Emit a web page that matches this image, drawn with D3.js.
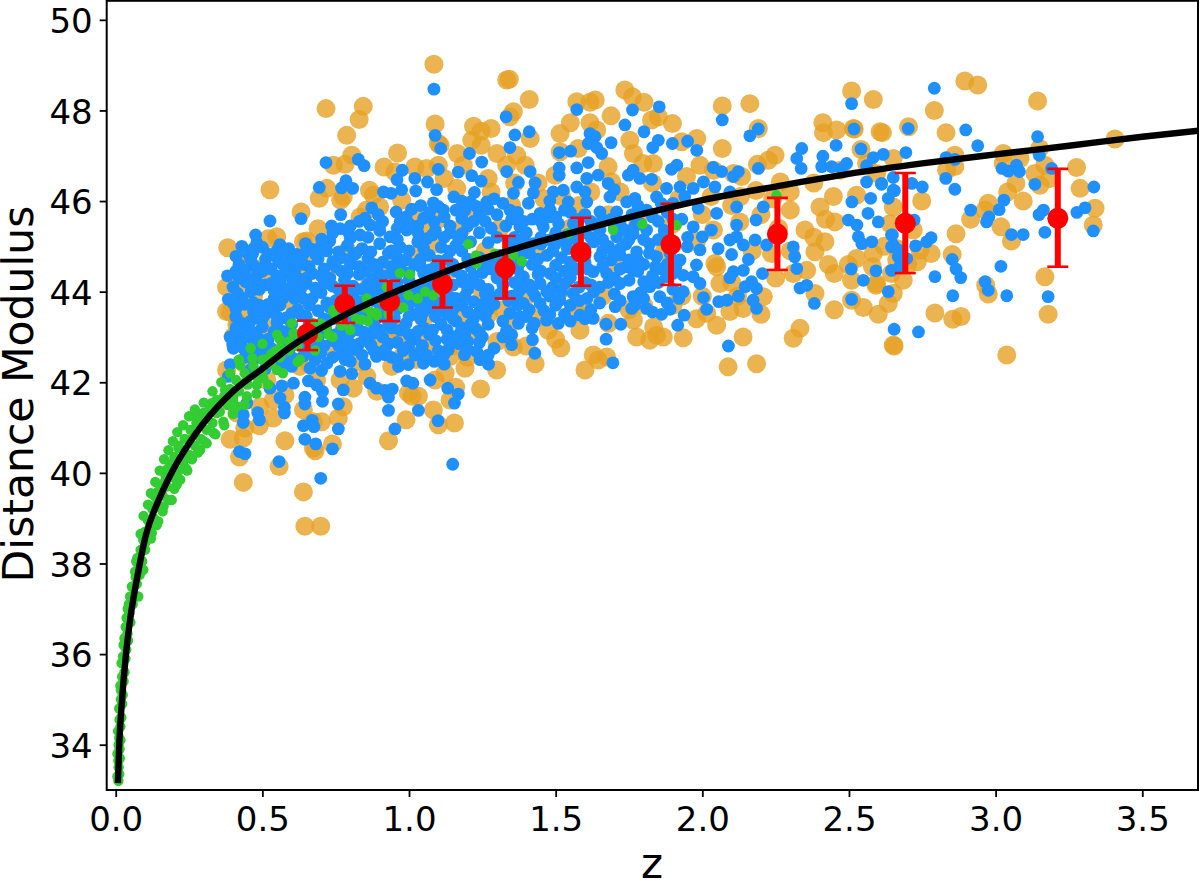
<!DOCTYPE html>
<html><head><meta charset="utf-8">
<script src="https://cdnjs.cloudflare.com/ajax/libs/d3/7.8.5/d3.min.js"></script>
<style>html,body{margin:0;padding:0;background:#fff}svg{display:block}text{font-family:"DejaVu Sans",sans-serif;fill:#000}</style>
</head><body><svg id="c" width="1200" height="881"></svg>
<script>
const xTicks=[0,0.5,1,1.5,2,2.5,3,3.5];
const yTicks=[34,36,38,40,42,44,46,48,50];
const xLabel="z", yLabel="Distance Modulus";
const orangePoints=[[1.085,49.02],[.844,48.09],[.717,48.04],[.83,47.8],[.7875,47.45],[1.089,47.7],[.526,46.25],[.961,47.06],[.805,47.01],[.782,46.81],[.742,46.79],[.915,46.75],[1.1,47.27],[1.106,47.23],[1.165,47.05],[1.246,47.54],[1.214,47.34],[1.246,47.23],[1.1,46.79],[1.02,46.75],[1.06,46.72],[.952,46.64],[1.185,46.79],[1.27,46.5],[1.163,46.28],[.865,46.24],[.879,46.13],[.72,46.28],[.694,46.06],[.767,46.02],[.776,46.1],[.632,45.76],[.549,45.21],[.52,45.17],[.64,45.1],[.652,45.12],[.382,44.97],[.435,44.58],[.475,44.51],[.69,45.39],[.674,44.84],[.833,45.65],[.855,45.8],[.9,45.87],[.975,46.02],[1.015,45.72],[1.06,45.43],[1.095,45.06],[.378,44.1],[.39,43.55],[.418,43.3],[.378,43.56],[.378,42.27],[.422,40.35],[.435,39.79],[.64,39.58],[.645,38.82],[.699,38.82],[.557,40.14],[.577,40.71],[.39,40.74],[.435,40.77],[.44,40.99],[.49,41.04],[.537,41.21],[.413,41.32],[.492,41.46],[.577,41.72],[.64,41.39],[.674,41.13],[.702,41.13],[.759,41.21],[.776,41.46],[.739,40.64],[.68,40.49],[.674,40.55],[.93,40.71],[.99,41.17],[1.083,41.39],[1.1,41.06],[1.155,41.1],[1.244,41.85],[1.159,41.89],[1.14,41.61],[1.032,41.69],[.998,41.76],[1.01,41.69],[.81,41.87],[.856,42.13],[.89,41.8],[.941,42.35],[1.025,42.5],[1.123,42.2],[1.089,42.05],[1.191,42.31],[1.299,42.27],[1.14,42.57],[.765,42.05],[.685,42.05],[.628,42.35],[.537,41.61],[.515,42.05],[.413,43.27],[.401,43.01],
[1.333,48.67],[1.342,48.69],[1.41,48.24],[1.356,47.97],[1.344,47.86],[1.413,47.38],[1.515,47.49],[1.572,48.19],[1.617,48.18],[1.635,48.23],[1.736,48.45],[1.762,48.3],[1.801,48.18],[1.689,47.88],[1.55,47.73],[1.617,47.73],[1.64,47.57],[1.898,47.71],[1.85,47.86],[1.827,47.79],[1.753,47.34],[1.765,47.05],[1.981,47.38],[1.93,47.31],[2.068,47.16],[2.068,48.1],[2.162,48.15],[2.191,47.6],[2.509,48.43],[2.583,48.24],[2.411,47.73],[2.413,47.51],[2.458,47.57],[2.518,47.59],[2.614,47.51],[2.606,47.53],[2.248,47.01],[2.225,46.9],[2.188,46.81],[2.266,46.42],[2.183,46.23],[2.651,46.94],[2.038,46.68],[2.106,46.61],[2.134,46.54],[1.992,46.79],[1.946,46.54],[1.798,46.83],[1.833,46.83],[1.679,46.76],[1.691,46.42],[1.577,47.16],[1.515,47.09],[1.498,46.57],[1.367,47.01],[1.333,46.79],[1.396,46.79],[2.128,45.54],[2.038,45.36],[2.043,44.62],[2.049,44.55],[2.356,44.47],[2.384,44.88],[2.236,44.84],[2.31,44.4],[2.418,45.1],[2.35,45.36],[2.452,45.54],[2.498,44.6],[2.509,44.25],[2.583,44.84],[2.594,44.18],[2.634,43.74],[2.384,43.96],[2.509,43.81],[2.549,43.65],[2.208,43.89],[2.139,43.63],[2.06,44.18],[2.015,43.52],[2.049,43.26],[2.094,43.56],[2.139,43.0],[2.185,42.41],[2.088,42.34],[2.31,42.97],[2.333,43.19],[1.935,42.98],[1.844,43.04],[1.821,42.93],[1.776,43.0],[1.867,43.0],[1.518,42.76],[1.628,42.6],[1.645,42.49],[1.674,42.56],[1.6,42.27],[1.43,42.41],[1.356,42.78],[1.475,43.15],[1.583,43.15],[1.45,43.45],[1.765,43.37],[1.834,43.22],[2.651,42.82],
[2.895,48.65],[2.939,48.56],[2.791,48.0],[3.143,48.21],[2.831,47.51],[2.703,47.64],[2.861,47.01],[2.861,46.76],[2.833,46.68],[3.026,47.05],[3.026,46.83],[3.083,46.94],[3.15,47.16],[3.168,46.79],[3.407,47.37],[3.276,46.74],[3.288,46.28],[3.134,46.61],[3.151,46.35],[3.185,46.5],[3.041,46.2],[3.069,46.39],[3.094,46.0],[2.975,45.95],[2.915,45.6],[2.964,45.8],[3.018,45.43],[3.054,45.12],[2.865,45.28],[2.748,46.0],[2.852,44.82],[3.333,45.47],[3.339,45.84],[3.168,44.33],[3.179,43.5],[2.966,44.14],[2.975,43.95],[2.793,43.53],[2.854,43.39],[2.882,43.45],[3.038,42.6],[2.654,42.8],[2.592,44.14],[2.645,44.4],[2.685,44.25],[2.651,43.96],[2.733,44.66],[2.78,44.84],[2.742,44.92],[2.719,45.36],[2.663,44.95],[2.663,44.7],[2.526,44.73],[2.64,45.5],[2.651,45.87],[2.526,46.13],[2.447,46.1],[2.401,45.87],[2.47,46.68],[2.56,46.83],[2.594,46.61],[2.541,47.14],[2.515,47.6],
[.42,44.2],[.47,43.9],[.53,44.3],[.44,43.5],[.52,43.2],[.61,43.7],[.48,42.8],[.57,42.6],[.66,42.4],[.75,42.7],[.83,42.45],[.9,42.8],[.98,42.6],[1.06,42.9],[1.15,42.8],[1.23,43.1],[1.3,42.9],[1.32,43.6],[1.25,44.0],[1.17,43.5],[1.05,43.4],[.95,43.2],[.86,44.1],[.72,44.4],[.63,44.6],[.79,44.9],[.92,44.6],[1.03,44.8],[1.14,44.5],[1.26,44.9],[1.31,45.4],[1.2,45.7],[1.12,46.5],[1.3,47.05],[1.28,47.6],[1.22,47.65],[1.36,46.4],[1.44,46.4],[1.52,46.1],[1.62,46.2],[1.72,46.2],[1.83,46.4],[1.92,46.05],[2.03,46.1],[2.13,46.1],[2.24,46.05],[2.3,46.2],[2.38,46.4],[1.43,44.9],[1.55,45.4],[1.7,44.6],[1.87,44.9],[1.98,45.1],[2.17,44.9],[2.26,45.4],[1.4,43.9],[1.52,44.05],[1.66,43.9],[1.8,43.7],[1.93,43.9],[1.98,43.4],[1.68,43.3],[1.57,43.55],[1.35,43.35],[2.25,44.3],[2.42,45.6],
[.45,44.75],[.56,44.1],[.68,43.2],[.6,43.0],[.5,42.6],[.44,42.4],[.78,43.1],[.96,42.95],[1.1,42.6],[1.2,42.55],[1.27,43.5],[1.1,45.6],[1.18,45.4],[1.28,46.2],[1.35,45.9],[1.46,46.05],[1.58,45.9],[1.68,45.7],[1.78,45.55],[1.9,45.5],[2.0,45.7],[2.1,45.9],[2.2,45.7],[2.3,45.8],[2.38,45.2],[2.43,44.6],[2.3,44.9],[2.1,44.2],[2.0,43.9],[1.9,43.7],[1.75,43.6],[1.6,43.6],[1.5,42.95],[1.4,42.8],[2.2,43.5],[2.12,43.9],[2.45,44.4],[2.45,43.6],[2.6,43.5],[2.58,44.55],[2.62,45.0],[2.7,44.6]];
const bluePoints=[[1.085,48.47],[1.089,47.45],[1.108,47.16],[1.206,47.05],[1.248,46.86],[1.1,46.7],[1.168,46.64],[1.214,46.56],[1.246,46.44],[1.223,46.19],[.717,46.85],[.827,46.92],[.847,46.78],[.785,46.45],[.77,46.29],[.808,46.28],[.694,46.3],[.767,45.7],[.977,46.68],[.959,46.47],[1.02,46.5],[1.063,46.42],[.975,46.25],[.913,46.2],[.939,46.17],[1.023,46.22],[1.094,46.25],[1.153,46.09],[1.083,45.96],[1.117,45.8],[1.009,45.82],[.873,45.85],[.895,45.7],[.956,45.76],[.632,45.61],[.526,45.56],[.477,45.25],[.481,45.08],[.467,44.84],[.55,44.91],[.647,45.06],[.617,44.82],[.597,44.77],[.511,44.72],[.555,44.68],[.381,44.35],[.43,44.44],[.481,44.36],[.443,44.22],[.384,43.83],[.416,43.96],[.41,43.44],[.392,43.0],[.399,42.82],[.702,45.16],[.736,45.45],[.765,45.39],[.793,45.32],[.833,45.25],[.867,45.47],[.935,45.21],[.992,45.36],[1.06,45.17],[1.086,45.54],[1.191,45.8],[1.265,45.98],[1.23,45.88],
[.557,40.25],[.699,39.88],[1.149,40.19],[.422,40.47],[.441,40.42],[.645,40.74],[.682,40.64],[.739,40.53],[.64,41.04],[.67,41.16],[.676,41.02],[.759,40.97],[.952,40.97],[.93,41.38],[1.032,41.38],[1.099,41.15],[.435,41.28],[.435,41.11],[.484,41.33],[.49,41.17],[.575,41.32],[.575,41.45],[.56,41.65],[.645,41.67],[.645,41.52],[.705,41.58],[.759,41.52],[.776,41.83],[.705,41.8],[.685,41.94],[.657,42.03],[.867,41.98],[.889,41.87],[.918,41.82],[.943,41.85],[.93,41.67],[.992,42.03],[1.013,41.98],[1.072,42.05],[1.132,41.87],[1.168,41.74],[1.155,41.54],[1.231,42.68],[1.271,42.4],[1.242,42.5],[1.189,42.61],[1.086,42.46],[1.049,42.42],[1.046,42.81],[.998,42.39],[.964,42.35],[.918,42.61],[.889,42.57],[.805,42.19],[.765,42.24],[.702,42.26],[.663,42.31],[.606,41.98],[.566,41.92],[.526,41.87],[.447,41.54],[.384,42.13],[.39,42.39],[.401,42.75],[.39,43.0],[.41,43.45],[.782,42.5],[.8,42.46],[.74,42.55],[1.134,42.72],[1.14,42.86],[1.174,43.08],[1.225,43.19],
[1.331,47.86],[1.41,47.53],[1.361,47.46],[1.344,47.18],[1.333,46.65],[1.413,46.65],[1.373,46.41],[1.572,48.02],[1.762,48.01],[1.853,48.08],[1.736,47.68],[1.801,47.53],[2.068,47.79],[2.191,47.59],[2.162,47.44],[1.85,47.34],[1.831,47.18],[1.898,47.27],[1.95,47.32],[1.981,47.12],[1.689,47.29],[1.617,47.49],[1.634,47.42],[1.611,47.27],[1.64,47.18],[1.657,47.05],[1.512,47.07],[1.551,47.1],[1.611,46.85],[1.572,46.73],[1.512,46.73],[1.512,46.57],[1.913,46.79],[1.895,46.7],[2.037,46.74],[2.066,46.65],[2.123,46.65],[2.106,46.54],[2.191,46.72],[2.339,47.16],[2.322,46.94],[2.337,46.72],[2.411,46.99],[2.407,46.76],[2.441,46.76],[2.456,47.23],[2.492,46.83],[2.475,46.72],[2.541,47.15],[2.517,47.59],[2.509,48.15],[2.56,46.78],[2.583,46.96],[2.617,47.03],[2.56,46.42],[2.611,46.39],[2.651,46.24],[2.634,46.06],[2.574,46.06],[2.51,45.98],[2.498,45.58],[2.527,45.47],[2.565,45.73],[2.6,45.54],[2.532,45.21],[2.544,45.06],[2.578,45.1],[2.645,45.25],[2.645,44.99],[2.668,44.77],[2.508,44.5],[2.549,44.25],[2.592,44.46],[2.645,44.47],[2.634,44.0],[2.509,43.83],[2.654,43.17],[2.382,43.74],[2.356,44.14],[2.333,44.08],[2.322,44.51],[2.315,44.77],[2.31,44.99],[2.208,45.87],[2.183,45.58],[2.18,45.14],[2.219,45.03],[2.205,44.4],[2.157,44.71],[2.14,44.47],[2.106,44.44],[2.094,44.31],[2.146,44.11],[2.168,44.22],[2.185,44.07],[2.185,43.63],[2.173,43.81],[2.123,43.9],[2.084,43.81],[2.056,43.78],[2.015,43.61],[2.004,43.87],[1.938,43.48],[1.916,43.26],[1.89,43.61],[2.089,42.8],[1.695,42.43],[1.672,42.95],[1.672,43.28],[1.722,43.28],[1.628,43.41],[1.583,43.48],[1.509,43.3],[1.469,43.37],[1.427,43.3],[1.421,42.94],[1.35,42.83],[1.429,42.64],[1.373,43.3],[1.333,43.15],[1.703,43.67],[1.759,43.63],[1.81,43.63],[1.861,43.5],[1.935,44.0],[1.992,44.18],[1.969,44.33],[1.935,44.36],[1.98,44.59],[1.992,44.92],[1.949,44.99],[2.054,44.95],[2.1,44.82],[2.117,45.47],[2.14,45.03],[2.117,45.21],[2.094,45.14],[2.0,45.21],[2.031,45.36],[1.969,45.43],[1.986,45.84],[2.049,45.73],[2.117,45.87],[2.094,46.2],[2.043,46.31],[2.004,46.42],[1.969,46.28],[1.924,46.31],[1.878,46.28],[1.827,46.48],[1.787,46.5],[1.764,46.68],[1.748,46.57],[1.679,46.39],[1.645,46.57],[1.606,46.5],[1.572,46.31],[1.526,46.24],[1.492,46.2],[1.424,46.18],[1.356,46.17],[1.407,45.95],[1.447,45.73],[1.481,45.8],[1.543,45.98],[1.606,45.98],[1.685,46.09],[1.77,46.06],[1.844,46.09],[1.742,45.98],[1.651,45.76],[1.708,45.76],[1.81,45.8],[1.9,45.95],[1.344,45.8],[1.378,45.43],[1.458,45.43],[1.51,45.5],[1.33,45.45],[1.424,45.06],[1.481,45.14],[1.535,45.1],[1.651,45.36],[1.708,45.21],[1.764,45.28],[1.81,45.36],[1.85,45.15],[1.651,44.77],[1.719,44.81],[1.776,44.88],[1.844,44.77],[1.924,44.7],[1.39,44.33],[1.447,44.18],[1.481,44.4],[1.532,44.18],[1.628,44.44],[1.674,44.4],[1.719,44.18],[1.764,44.47],[1.821,44.11],[1.878,44.33],[1.855,43.89],[1.764,43.89],[1.607,43.85],[1.56,43.96],[1.514,43.81],[1.447,43.74],[1.39,43.74],[1.344,43.52],[1.9,44.05],
[2.791,48.49],[2.898,47.57],[3.143,47.42],[2.939,47.22],[2.831,46.96],[2.861,46.92],[3.149,47.01],[3.191,46.72],[3.022,46.72],[3.043,46.66],[3.071,46.79],[3.081,46.65],[3.134,46.37],[3.335,46.31],[2.83,46.5],[2.861,46.26],[2.75,46.31],[2.714,46.39],[2.694,47.07],[2.702,47.6],[2.651,46.52],[2.611,46.37],[2.655,46.23],[3.028,46.02],[3.012,45.81],[2.915,45.8],[2.977,45.65],[2.969,45.54],[3.163,45.8],[3.148,45.7],[3.168,45.31],[3.054,45.26],[3.094,45.26],[3.277,45.75],[3.305,45.85],[3.333,45.34],[2.722,45.58],[2.648,45.25],[2.651,45.03],[2.668,44.92],[2.727,45.01],[2.765,45.1],[2.78,45.19],[2.697,44.73],[2.852,44.71],[2.865,44.5],[2.881,44.31],[2.793,44.33],[3.018,44.56],[2.964,44.22],[2.975,44.03],[2.854,43.91],[3.038,43.91],[3.179,43.89],[2.737,43.11],[2.672,44.55],
[.43,45.0],[.5,44.98],[.56,45.04],[.6,44.55],[.67,44.93],[.73,45.12],[.79,45.02],[.84,44.95],[.9,45.06],[.97,44.98],[1.03,45.1],[1.12,45.2],[1.17,45.15],[1.24,45.3],[1.3,45.2],[.42,44.6],[.47,44.58],[.53,44.5],[.58,44.42],[.64,44.6],[.69,44.72],[.74,44.66],[.8,44.6],[.86,44.72],[.91,44.65],[.96,44.75],[1.02,44.6],[1.07,44.8],[1.13,44.72],[1.18,44.9],[1.24,44.75],[1.31,44.8],[1.37,45.0],[.4,44.1],[.46,44.0],[.51,44.15],[.56,44.22],[.62,44.3],[.67,44.4],[.73,44.3],[.78,44.25],[.83,44.38],[.88,44.3],[.94,44.4],[1.0,44.25],[1.05,44.4],[1.11,44.3],[1.16,44.45],[1.22,44.35],[1.28,44.5],[1.34,44.6],[.44,43.72],[.49,43.7],[.54,43.85],[.59,43.95],[.64,43.85],[.7,43.98],[.75,43.8],[.81,43.9],[.87,43.98],[.92,43.9],[.97,44.0],[1.03,43.92],[1.08,44.0],[1.14,43.88],[1.2,44.05],[1.26,43.95],[1.32,44.15],[1.38,44.05],[.43,43.3],[.48,43.42],[.53,43.55],[.58,43.42],[.63,43.5],[.69,43.58],[.74,43.4],[.8,43.62],[.85,43.55],[.91,43.5],[.96,43.62],[1.02,43.5],[1.07,43.65],[1.13,43.5],[1.18,43.7],[1.24,43.55],[1.29,43.72],[.42,43.0],[.47,43.1],[.52,42.95],[.57,43.12],[.62,42.95],[.67,42.85],[.72,43.1],[.78,43.0],[.83,43.15],[.88,43.08],[.94,43.2],[1.0,43.05],[1.05,43.2],[1.11,43.28],[1.16,43.35],[1.22,43.4],[1.27,43.28],[.44,42.55],[.49,42.7],[.54,42.5],[.59,42.7],[.64,42.58],[.7,42.65],[.76,42.8],[.82,42.72],[.87,42.82],[.93,42.85],[.98,42.7],[1.04,42.7],[1.09,42.92],[1.15,43.0],[1.2,42.9],[.46,42.28],[.51,42.3],[.6,42.35],[.68,42.5],[.85,42.4],[.94,42.55],[1.12,42.4],[1.29,42.75],[1.32,43.0],[1.37,43.7],[1.42,44.6],[1.47,44.8],[1.52,44.75],[1.57,44.5],[1.57,45.15],[1.6,44.95],[1.68,45.0],[1.74,44.55],[1.8,44.6],[1.86,44.5],[1.45,45.2],[1.55,45.75],[1.62,45.55],[1.72,45.5],[1.85,45.55],[1.93,45.6],[1.95,45.2],[1.55,44.3],[1.65,44.1],[1.83,44.35],[1.45,44.45],
[.45,44.85],[.52,44.83],[.57,44.87],[.64,44.83],[.7,45.0],[.76,44.88],[.81,44.8],[.87,44.88],[.93,44.85],[1.0,44.9],[1.05,44.95],[1.11,44.98],[1.16,45.02],[1.21,45.1],[1.27,45.08],[1.34,45.1],[.41,44.78],[.44,44.47],[.5,44.45],[.55,44.35],[.61,44.45],[.66,44.55],[.71,44.5],[.77,44.45],[.83,44.55],[.89,44.5],[.97,44.55],[1.04,44.55],[1.09,44.55],[1.15,44.6],[1.21,44.55],[1.26,44.62],[1.33,44.38],[.42,44.3],[.48,44.2],[.54,44.02],[.6,44.12],[.65,44.18],[.71,44.18],[.76,44.05],[.81,44.12],[.86,44.18],[.91,44.12],[.96,44.2],[1.02,44.12],[1.07,44.2],[1.12,44.12],[1.18,44.22],[1.24,44.15],[1.3,44.3],[.41,43.62],[.47,43.55],[.51,43.5],[.56,43.7],[.61,43.85],[.66,43.7],[.72,43.75],[.78,43.7],[.84,43.78],[.9,43.72],[.95,43.8],[1.0,43.72],[1.06,43.82],[1.11,43.7],[1.16,43.85],[1.22,43.78],[1.28,43.85],[1.34,43.8],[.45,43.18],[.5,43.22],[.55,43.32],[.6,43.28],[.66,43.3],[.71,43.4],[.77,43.2],[.82,43.35],[.88,43.3],[.93,43.32],[.99,43.3],[1.04,43.4],[1.09,43.45],[1.15,43.6],[1.2,43.55],[1.26,43.45],[.43,42.78],[.47,42.88],[.53,42.75],[.58,42.9],[.64,42.78],[.69,42.9],[.74,42.92],[.8,42.85],[.85,42.98],[.91,43.0],[.96,42.88],[1.02,42.95],[1.07,43.05],[1.13,43.15],[1.18,43.2],[1.24,43.1],[.42,42.45],[.47,42.5],[.52,42.55],[.57,42.42],[.62,42.5],[.66,42.65],[.72,42.42],[.79,42.65],[.84,42.6],[.9,42.65],[.96,42.5],[1.02,42.6],[1.1,42.7],[1.17,42.85],[1.24,42.88],[.74,45.3],[.8,45.18],[.86,45.2],[.9,45.35],[.96,45.15],[1.03,45.3],[1.09,45.35],[1.14,45.45],[1.2,45.45],[1.26,45.55],[1.12,45.65],[1.18,45.62],[1.24,45.72],[1.3,45.7],[1.05,45.62],[.97,45.55],[.91,45.55],[.85,45.62],[1.27,45.82],[1.32,45.95],
[1.37,45.75],[1.42,45.6],[1.48,45.65],[1.53,45.8],[1.58,45.6],[1.66,45.6],[1.76,45.7],[1.88,45.75],[1.36,45.2],[1.4,45.3],[1.5,45.3],[1.6,45.3],[1.7,45.4],[1.79,45.5],[1.87,45.35],[1.38,44.82],[1.44,44.72],[1.54,44.95],[1.63,45.1],[1.74,45.05],[1.82,45.05],[1.9,45.1],[1.37,44.5],[1.43,44.6],[1.5,44.58],[1.6,44.65],[1.69,44.7],[1.78,44.7],[1.88,44.6],[1.36,44.2],[1.42,44.02],[1.49,44.1],[1.6,44.2],[1.7,44.3],[1.8,44.22],[1.9,44.4],[1.35,43.9],[1.41,43.6],[1.48,43.9],[1.55,43.7],[1.63,44.0],[1.7,43.95],[1.79,43.98],[1.92,43.85],[1.38,43.45],[1.46,43.58],[1.53,43.5],[1.62,43.6],[1.83,43.55],[1.42,43.2],[1.35,43.05],[1.72,44.95],[1.48,46.0],[1.6,46.2],[1.7,46.25],[1.43,46.4],[1.78,45.9],[1.86,45.95],[1.94,46.1],
[.47,44.95],[.54,44.8],[.59,44.95],[.62,44.7],[.68,44.83],[.72,44.9],[.77,44.75],[.82,44.85],[.88,44.6],[.94,44.9],[.99,44.7],[1.04,44.72],[1.1,44.68],[1.14,44.9],[1.2,44.72],[1.28,44.72],[.46,44.7],[.51,44.6],[.57,44.6],[.6,44.3],[.65,44.3],[.7,44.35],[.75,44.55],[.79,44.4],[.85,44.45],[.91,44.35],[.94,44.55],[1.0,44.42],[1.07,44.48],[1.12,44.42],[1.18,44.35],[1.25,44.42],[1.3,44.6],[.41,44.45],[.45,44.28],[.49,44.05],[.53,44.18],[.58,44.05],[.63,44.05],[.68,44.08],[.74,44.12],[.79,43.98],[.84,44.05],[.89,44.05],[.94,44.02],[.99,44.0],[1.05,44.05],[1.1,44.05],[1.15,44.15],[1.21,44.18],[1.27,44.05],[.4,43.75],[.43,43.85],[.47,43.75],[.52,43.72],[.57,43.85],[.62,43.6],[.67,43.85],[.73,43.65],[.76,43.62],[.82,43.65],[.88,43.8],[.93,43.65],[.98,43.85],[1.04,43.7],[1.09,43.78],[1.13,43.72],[1.19,43.9],[1.25,43.72],[1.31,43.95],[.41,43.2],[.46,43.35],[.5,43.4],[.55,43.45],[.6,43.52],[.65,43.45],[.7,43.25],[.75,43.55],[.79,43.4],[.83,43.45],[.89,43.42],[.95,43.42],[1.0,43.45],[1.05,43.55],[1.1,43.58],[1.15,43.4],[1.21,43.28],[1.27,43.6],[1.32,43.35],[.44,43.0],[.49,42.95],[.54,43.12],[.59,43.0],[.64,43.1],[.69,43.0],[.75,43.05],[.8,43.1],[.85,43.1],[.9,43.15],[.97,43.15],[1.03,43.12],[1.08,43.15],[1.13,42.95],[1.19,43.05],[1.25,43.0],[.45,42.7],[.5,42.85],[.55,42.62],[.6,42.55],[.65,42.7],[.71,42.8],[.77,42.62],[.83,42.85],[.88,42.7],[.92,42.72],[1.0,42.8],[1.06,42.6],[1.12,42.62],[1.2,42.72],[1.27,42.6],[.8,45.45],[.83,45.55],[.9,45.45],[.96,45.4],[1.0,45.5],[1.03,45.45],[1.08,45.25],[1.14,45.3],[1.18,45.28],[1.22,45.55],[1.28,45.4],[1.16,45.8],[1.1,45.88],[1.04,45.9],[.99,45.65],[1.07,45.75],[1.21,45.98],[1.29,46.05],[1.18,46.0],
[1.35,45.6],[1.39,45.55],[1.45,45.55],[1.5,45.65],[1.56,45.5],[1.6,45.7],[1.64,45.45],[1.69,45.6],[1.74,45.35],[1.77,45.45],[1.83,45.65],[1.9,45.6],[1.39,45.15],[1.45,45.05],[1.5,45.05],[1.54,45.25],[1.62,45.2],[1.66,45.15],[1.75,45.15],[1.8,45.15],[1.88,45.2],[1.35,44.9],[1.41,44.85],[1.49,44.9],[1.55,44.65],[1.6,44.8],[1.66,44.9],[1.7,44.85],[1.75,44.7],[1.82,44.85],[1.89,44.85],[1.34,44.75],[1.38,44.65],[1.44,44.38],[1.5,44.3],[1.53,44.45],[1.61,44.5],[1.66,44.55],[1.72,44.5],[1.78,44.45],[1.84,44.55],[1.91,44.55],[1.38,44.3],[1.41,44.15],[1.47,44.0],[1.52,44.0],[1.58,44.1],[1.62,44.15],[1.68,44.2],[1.75,44.25],[1.85,44.2],[1.37,43.95],[1.43,43.9],[1.5,43.7],[1.58,43.8],[1.65,43.75],[1.72,43.8],[1.8,43.85],[1.88,43.75],[1.4,43.45],[1.48,43.5],[1.55,43.35],[1.6,43.4],[1.77,43.7]];
const greenPoints=[[.006,33.3],[.012,33.35],[.006,33.8],[.013,33.9],[.008,34.3],[.016,34.4],[.012,34.8],[.022,34.9],[.016,35.3],[.027,35.4],[.02,35.8],[.033,35.9],[.027,36.2],[.042,36.3],[.034,36.6],[.05,36.7],[.041,37.0],[.058,37.1],[.049,37.27],[.077,37.27],[.055,37.49],[.094,37.86],[.066,37.82],[.1,38.3],[.074,38.12],[.123,38.67],[.094,38.52],[.145,38.93],[.117,38.96],[.163,39.26],[.128,39.26],[.134,39.48],[.191,39.4],[.145,39.59],[.168,39.81],[.208,39.74],[.174,40.07],[.244,40.05],[.191,40.21],[.248,40.73],[.214,40.55],[.288,40.51],[.303,40.69],[.334,40.88],[.367,41.13],[.395,41.47],[.373,41.83],[.344,41.61],[.327,41.54],[.299,41.32],[.276,41.23],[.344,41.32],[.401,41.7],[.413,41.47],[.435,41.98],[.447,41.69],[.481,41.94],[.503,42.09],[.549,42.27],[.424,42.38],[.466,42.53],[.509,42.5],[.543,42.68],[.56,42.94],[.606,43.08],[.628,42.5],[.674,43.3],[.725,43.05],[.742,43.56],[.799,43.16],[.839,43.38],[.89,43.53],[.969,44.41],[1.003,44.38],[.998,43.92],[.924,44.1],[.856,43.85],[.742,43.59],[.89,43.48],[1.083,43.92],[1.055,44.0],[1.202,45.05],[1.228,44.8],[1.293,44.84],[1.231,44.62],[1.543,45.28],[1.696,45.36],[1.796,45.49],[1.912,45.47],[1.384,44.67],[2.253,46.13],[1.356,44.81],
[.009,33.2],[.01,33.5],[.009,33.65],[.014,33.7],[.01,34],[.016,34.1],[.012,34.15],[.013,34.55],[.019,34.6],[.018,35.0],[.024,35.1],[.018,35.2],[.022,35.5],[.03,35.6],[.025,35.95],[.036,36.1],[.03,36.35],[.04,36.45],[.037,36.8],[.047,36.9],[.045,37.1],[.055,37.2],[.06,37.5],[.072,37.55],[.068,37.7],[.082,37.75],[.075,38.0],[.09,38.05],[.085,38.3],[.1,38.45],[.1,38.7],[.115,38.75],[.11,38.95],[.13,39.0],[.125,39.2],[.145,39.25],[.14,39.45],[.16,39.5],[.155,39.7],[.175,39.7],[.17,39.95],[.195,39.9],[.185,40.15],[.215,40.05],[.2,40.35],[.23,40.25],[.215,40.6],[.25,40.4],[.235,40.75],[.27,40.6],[.255,40.95],[.29,40.75],[.275,41.1],[.31,40.95],[.3,41.2],[.33,41.1],[.32,41.4],[.355,41.35],[.345,41.5],[.38,41.5],[.37,41.7],[.4,41.62],[.39,41.85],[.42,41.8],[.41,42.05],[.45,41.95],[.44,42.2],[.475,42.15],[.47,42.35],[.5,42.25],[.5,42.5],[.53,42.4],[.53,42.62],[.56,42.55],[.56,42.75],[.59,42.7],[.59,42.9],[.62,42.8],[.62,43.05],[.65,42.95],[.66,43.2],[.69,43.0],[.7,43.3],[.72,43.2],[.75,43.4],[.77,43.25],[.8,43.55],[.82,43.4],[.85,43.65],[.87,43.55],[.91,43.8],[.94,43.7],
[.07,38.05],[.085,38.65],[.095,39.05],[.11,39.3],[.12,39.55],[.135,39.8],[.15,40.05],[.165,40.3],[.18,40.5],[.195,40.7],[.21,40.9],[.23,41.05],[.25,41.25],[.27,41.4],[.3,41.55],[.33,41.8],[.36,42.0],[.39,42.2],[.42,42.5],[.46,42.75],[.5,42.85],[.55,43.05],[.6,43.3],[.12,38.55],[.14,38.85],[.16,39.15],[.18,39.4],[.2,39.65],[.22,39.85],[.24,40.1],[.26,40.3],[.28,40.45],[.31,40.65],[.34,40.85],[.37,41.05],[.4,41.3],[.44,41.5],[.48,41.75],[.52,41.95],[.57,42.2],[.62,42.45],[.68,42.7],[.74,43.0],[.8,43.15],[.86,43.35],[.93,43.5],[.98,43.65],[1.03,43.85]];
const redZ=[.654,.781,.934,1.114,1.328,1.586,1.893,2.256,2.692,3.212];
const redMu=[43.07,43.73,43.78,44.17,44.52,44.87,45.04,45.27,45.51,45.62];
const redHi=[43.36,44.13,44.24,44.68,45.23,45.63,45.94,46.07,46.62,46.71];
const redLo=[42.71,43.31,43.35,43.65,43.85,44.13,44.15,44.48,44.41,44.55];
const curveZ=[.0075,.012,.02,.035,.05,.075,.1,.15,.2,.25,.3,.4,.5,.6,.7,.8,.9,1,1.2,1.4,1.6,1.8,2,2.25,2.5,2.75,3,3.25,3.5,3.7];
const curveMu=[33.15,34,34.85,36,36.8,37.75,38.55,39.45,40.12,40.65,41.1,41.8,42.3,42.8,43.2,43.55,43.85,44.12,44.62,45.02,45.38,45.72,46.02,46.32,46.6,46.83,47.03,47.22,47.42,47.56];

const L=106.7,R=1198,T=0.8,B=790;
const x=d3.scaleLinear().domain([-0.0307,3.69]).range([L,R]);
const y=d3.scaleLinear().domain([33,50.42]).range([B,T]);
const svg=d3.select("#c");
svg.append("defs").append("clipPath").attr("id","p").append("rect").attr("x",L).attr("y",T).attr("width",R-L).attr("height",B-T);
const g=svg.append("g").attr("clip-path","url(#p)");
g.append("g").selectAll("circle").data(orangePoints).join("circle").attr("cx",d=>x(d[0])).attr("cy",d=>y(d[1])).attr("r",9.5).attr("fill","#e6a126").attr("fill-opacity",.8);
g.append("g").selectAll("circle").data(bluePoints).join("circle").attr("cx",d=>x(d[0])).attr("cy",d=>y(d[1])).attr("r",6.4).attr("fill","#1e90ff");
g.append("g").selectAll("circle").data(greenPoints).join("circle").attr("cx",d=>x(d[0])).attr("cy",d=>y(d[1])).attr("r",5.2).attr("fill","#32cd32");
const eb=g.append("g").selectAll("g").data(redZ).join("g");
eb.append("line").attr("x1",d=>x(d)).attr("x2",d=>x(d)).attr("y1",(d,i)=>y(redLo[i])).attr("y2",(d,i)=>y(redHi[i])).attr("stroke","#f00").attr("stroke-width",6);
[redLo,redHi].forEach(a=>eb.append("line").attr("x1",d=>x(d)-10.5).attr("x2",d=>x(d)+10.5).attr("y1",(d,i)=>y(a[i])).attr("y2",(d,i)=>y(a[i])).attr("stroke","#f00").attr("stroke-width",2.6));
eb.append("circle").attr("cx",d=>x(d)).attr("cy",(d,i)=>y(redMu[i])).attr("r",10.5).attr("fill","#f00");
const line=d3.line().x(d=>x(d[0])).y(d=>y(d[1])).curve(d3.curveMonotoneX);
g.append("path").attr("d",line(curveZ.map((z,i)=>[z,curveMu[i]]))).attr("fill","none").attr("stroke","#000").attr("stroke-width",6.4);
svg.append("rect").attr("x",L).attr("y",T).attr("width",R-L).attr("height",B-T).attr("fill","none").attr("stroke","#000").attr("stroke-width",2);
const ax=svg.append("g").attr("transform",`translate(0,${B})`).call(d3.axisBottom(x).tickValues(xTicks).tickFormat(d3.format(".1f")).tickSize(7).tickPadding(10));
const ay=svg.append("g").attr("transform",`translate(${L},0)`).call(d3.axisLeft(y).tickValues(yTicks).tickFormat(d3.format("d")).tickSize(7).tickPadding(7));
[ax,ay].forEach(a=>{a.select(".domain").remove();a.selectAll("line").attr("stroke","#000").attr("stroke-width",1.8);a.selectAll("text").attr("font-size",34).attr("font-family",'"DejaVu Sans"').attr("fill","#000");});
ay.selectAll("text").attr("dy",".37em");
svg.append("text").attr("x",652).attr("y",878).attr("text-anchor","middle").attr("font-size",42).text(xLabel);
svg.append("text").attr("transform","translate(33,394) rotate(-90)").attr("text-anchor","middle").attr("font-size",42.5).text(yLabel);
</script></body></html>
